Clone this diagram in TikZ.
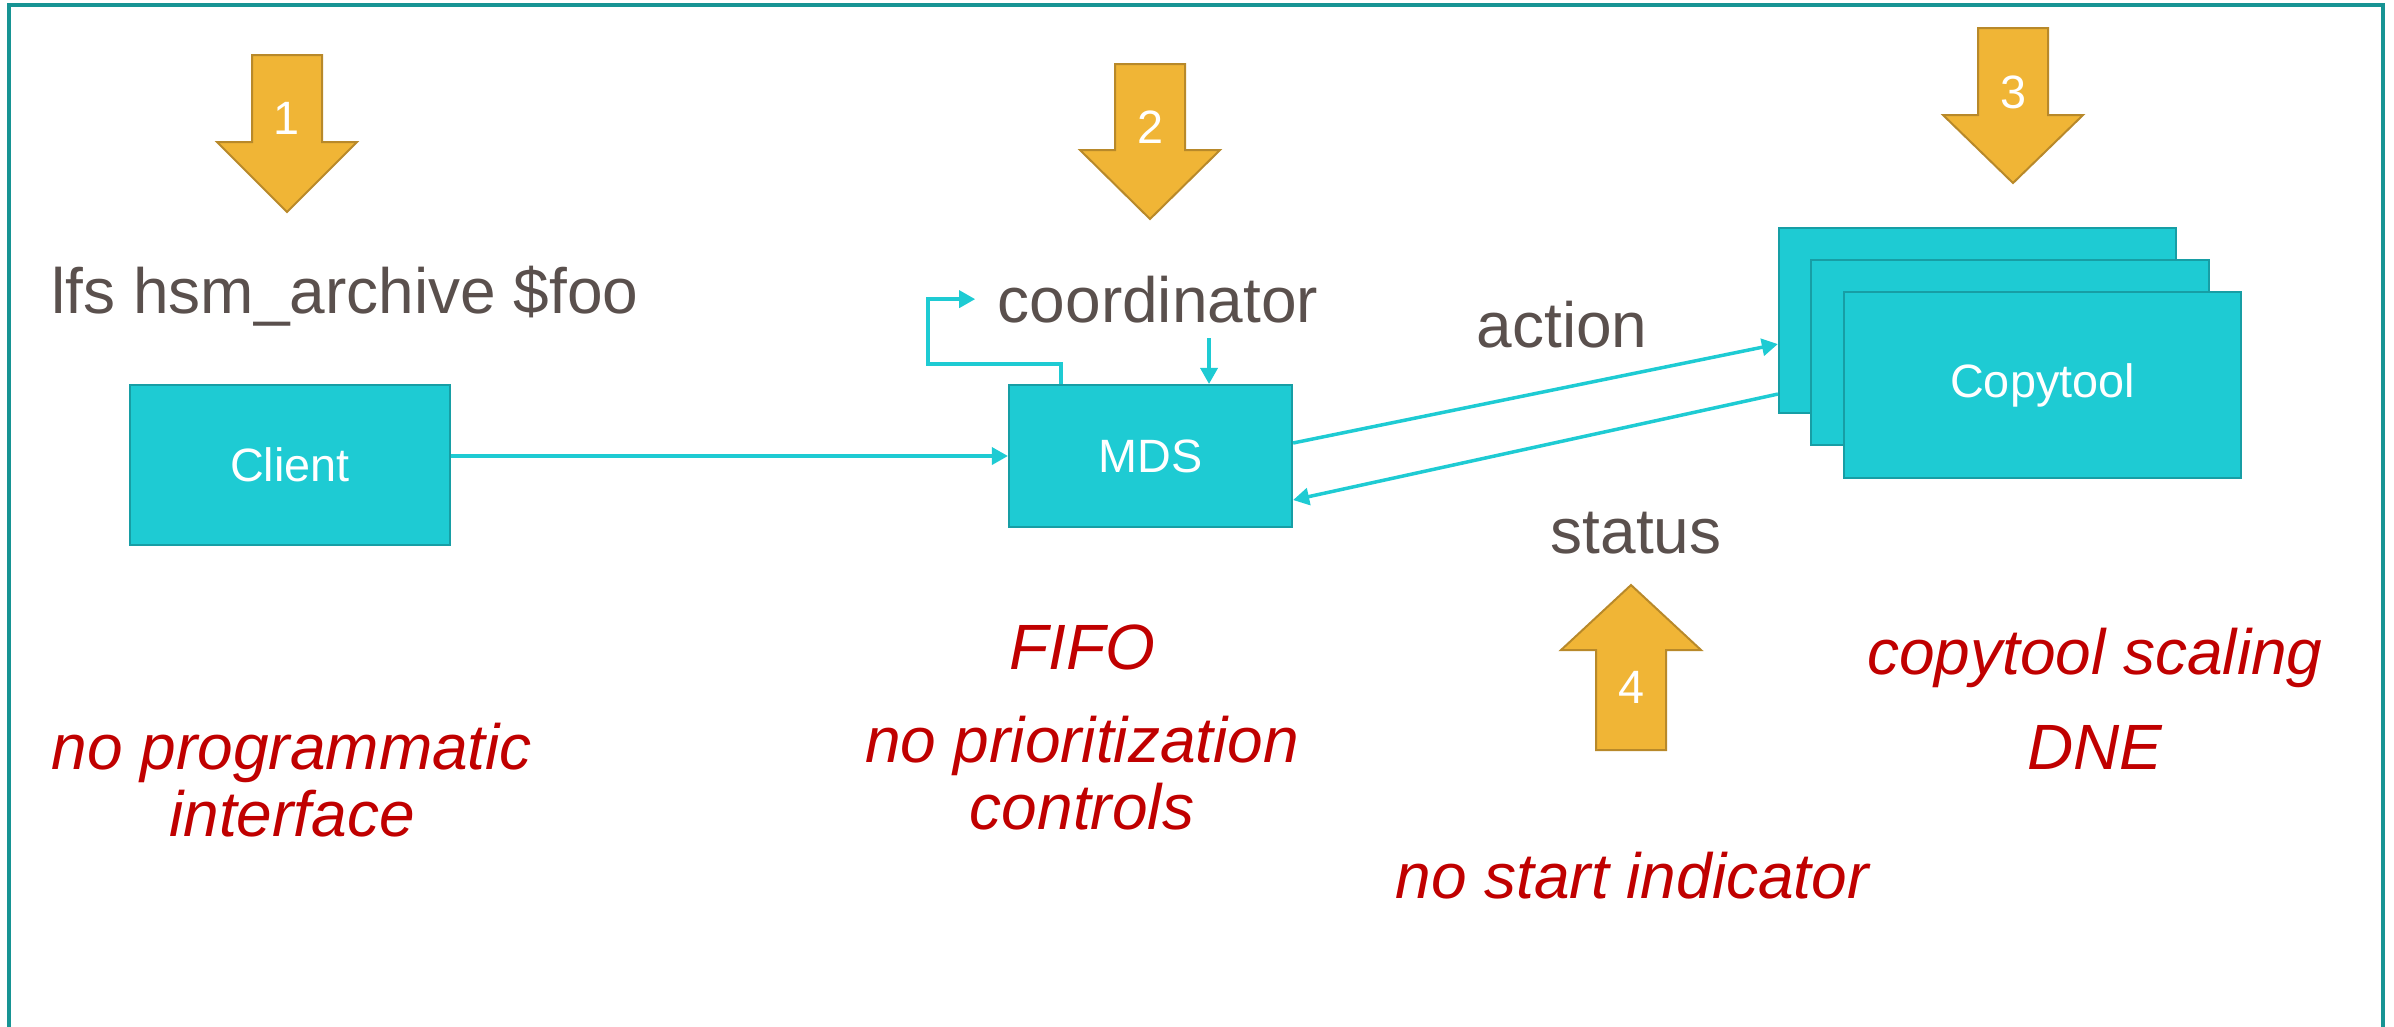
\documentclass[tikz,border=0pt]{standalone}
\usepackage{fontspec}
\setmainfont{Liberation Sans}
\usetikzlibrary{arrows.meta,positioning}
\definecolor{boxfill}{HTML}{1ECBD3}
\definecolor{boxline}{HTML}{179EA5}
\definecolor{frameline}{HTML}{179494}
\definecolor{arrowfill}{HTML}{F0B536}
\definecolor{arrowline}{HTML}{B8892A}
\definecolor{txtgray}{HTML}{5A504D}
\definecolor{txtred}{HTML}{C00000}
\tikzset{
  box/.style={draw=boxline, line width=0.02cm, fill=boxfill, text=white, font=\fontsize{13.3}{16}\selectfont},
  link/.style={draw=boxfill, line width=0.035cm, -{Triangle[length=0.16cm,width=0.17cm]}},
  note/.style={text=txtgray, font=\fontsize{18.2}{21}\selectfont, inner sep=0pt},
  issue/.style={text=txtred, font=\fontsize{18.2}{18.8}\selectfont\itshape, align=center, inner sep=0pt},
  numarrow/.style={draw=arrowline, fill=arrowfill, line width=0.02cm, line join=miter},
  numlabel/.style={text=white, font=\fontsize{13.3}{16}\selectfont, inner sep=0pt},
}
\newcommand\stepArrow[6]{% x, tail, head base, tip, label y, number
  \draw[numarrow] ({#1-35},#2) -- ({#1+35},#2) -- ({#1+35},#3) -- ({#1+70},#3)
    -- (#1,#4) -- ({#1-70},#3) -- ({#1-35},#3) -- cycle;
  \node[numlabel] (num#6) at (#1,#5) {#6};
}
\begin{document}
\begin{tikzpicture}[x=0.01cm, y=-0.01cm]
  \useasboundingbox (0,0) rectangle (2394,1026);
  \draw[frameline, line width=0.035cm] (9,1030) -- (9,5) -- (2383,5) -- (2383,1030);

  % boxes
  \node[box, minimum width=3.2cm, minimum height=1.6cm] (client) at (290,465) {Client};
  \node[box, minimum width=2.83cm, minimum height=1.42cm] (mds) at (1150.5,456) {MDS};
  \node[box, minimum width=3.97cm, minimum height=1.85cm] (ctA) at (1977.5,320.5) {};
  \node[box, minimum width=3.97cm, minimum height=1.85cm] (ctB) at (2010,352.5) {};
  \node[box, minimum width=3.97cm, minimum height=1.85cm] (ctC) at (2042.5,385) {Copytool};

  % labels
  \node[note, anchor=base] (cmd) at (345,313) {lfs hsm\_archive \$foo};
  \node[note, anchor=base] (coord) at (1158,322) {coordinator};
  \node[note, anchor=base] (action) at (1562,347) {action};
  \node[note, anchor=base] (status) at (1636,553) {status};

  % problems
  \node[issue, anchor=base] (noapi) at (292,836) {no programmatic\\interface};
  \node[issue, anchor=base] (fifo) at (1082,669) {FIFO};
  \node[issue, anchor=base] (noprio) at (1082,829) {no prioritization\\controls};
  \node[issue, anchor=base] (noscale) at (2095,769) {copytool scaling\\[8pt]DNE};
  \node[issue, anchor=base] (nostart) at (1632,898) {no start indicator};

  % numbered arrows
  \stepArrow{287}{55}{142}{212}{118}{1}
  \stepArrow{1150}{64}{150}{219}{127}{2}
  \stepArrow{2013}{28}{115}{183}{92}{3}
  \stepArrow{1631}{750}{650}{585}{687}{4}

  % connectors
  \draw[link] (client.east |- mds.west) -- (mds.west);
  \draw[link] ([yshift=0.13cm]mds.east) -- ([yshift=-0.235cm]ctA.west);
  \draw[link] ([yshift=-0.735cm]ctA.west) -- ([yshift=-0.44cm]mds.east);
  \draw[link] ([xshift=0.53cm]mds.north west) -- ++(0,-20) -- ++(-133,0) |- ([xshift=-0.22cm]coord.west);
  \draw[link] ([shift={(0.51cm,-0.15cm)}]coord.south) -- ([xshift=0.51cm]coord.south |- mds.north);
\end{tikzpicture}
\end{document}
